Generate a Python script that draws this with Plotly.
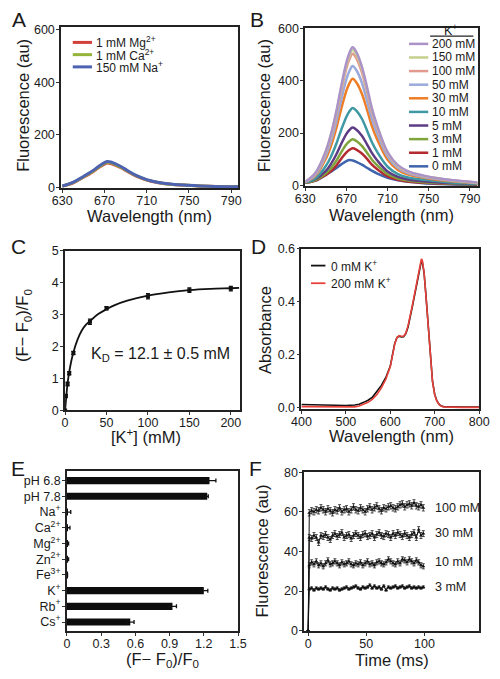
import plotly.graph_objects as go

# The page has an 8 px body margin; the figure is sized to fit the 500x679 window exactly.
OFF = 8
W, H = 500 - 2 * OFF, 679 - 2 * OFF
def px(x): return (x - OFF) / W
def py(y): return 1 - (y - OFF) / H

FONT = "Liberation Sans, Arial, sans-serif"
TXT = "#1a1a1a"

# ---------------- Panel A ----------------
WL = [630, 640, 650, 655, 660, 665, 670, 673, 676, 680, 685, 690, 695, 700, 710, 720, 730, 745, 760, 775, 797]
A_NAMES = ["1 mM Mg<sup>2+</sup>", "1 mM Ca<sup>2+</sup>", "150 mM Na<sup>+</sup>"]
A_MG = [4, 16, 38, 49, 62, 76, 88, 92, 90, 84, 75, 64, 52, 42, 27, 18, 12, 8, 5, 3, 2]
A_CA = [4, 17, 39, 51, 64, 78, 91, 95, 93, 87, 77, 66, 54, 44, 28, 19, 12, 8, 5, 3, 2]
A_NA = [4, 18, 41, 53, 66, 81, 94, 98, 96, 90, 80, 68, 56, 45, 29, 19, 13, 8, 5, 3, 2]
A_COLORS = ["#d2403a", "#95b43a", "#4d62b0"]

# ---------------- Panel B ----------------
B_NAMES = ["200 mM", "150 mM", "100 mM", "50 mM", "30 mM", "10 mM", "5 mM", "3 mM", "1 mM", "0 mM"]
B_200 = [13, 48, 132, 196, 280, 381, 471, 508, 529, 508, 455, 376, 291, 227, 127, 77, 53, 37, 26, 19, 11]
B_150 = [13, 47, 130, 192, 276, 374, 463, 499, 520, 499, 447, 369, 286, 224, 125, 75, 52, 36, 26, 18, 10]
B_100 = [13, 45, 126, 186, 267, 363, 449, 484, 504, 484, 433, 358, 277, 217, 121, 73, 50, 35, 25, 18, 10]
B_50 = [12, 41, 114, 169, 242, 329, 407, 439, 457, 439, 393, 324, 251, 197, 110, 66, 46, 32, 23, 16, 9]
B_30 = [12, 37, 102, 151, 216, 294, 363, 392, 408, 392, 351, 290, 224, 175, 98, 59, 41, 29, 20, 14, 8]
B_10 = [11, 27, 74, 110, 157, 213, 263, 284, 296, 284, 255, 210, 163, 127, 71, 43, 30, 21, 15, 10, 6]
B_5 = [11, 24, 55, 82, 117, 159, 197, 212, 221, 212, 190, 157, 122, 95, 53, 32, 22, 15, 11, 8, 4]
B_3 = [10, 20, 46, 65, 93, 127, 157, 169, 176, 169, 151, 125, 97, 76, 42, 26, 18, 12, 9, 6, 4]
B_1 = [10, 18, 40, 54, 75, 102, 126, 136, 142, 136, 122, 101, 78, 61, 34, 21, 14, 10, 7, 5, 3]
B_0 = [10, 18, 40, 52, 65, 80, 93, 97, 95, 89, 79, 67, 55, 45, 29, 19, 13, 8, 5, 3, 2]
B_SERIES = [B_200, B_150, B_100, B_50, B_30, B_10, B_5, B_3, B_1, B_0]
B_COLORS = ["#ab93c9", "#c5d08e", "#e29a8f", "#9aaada", "#ee7d25", "#3f99a4",
            "#5d3b85", "#7fa43c", "#b42a30", "#3e64ad"]

# ---------------- Panel C ----------------
C_K = [0, 1, 3, 5, 10, 30, 50, 100, 150, 200]
C_Y = [0, 0.45, 0.83, 1.17, 1.8, 2.78, 3.2, 3.58, 3.77, 3.82]
C_ERR = [0.02, 0.05, 0.06, 0.05, 0.05, 0.08, 0.05, 0.08, 0.07, 0.07]
FIT_K = [0, 1, 3, 5, 7.5, 10, 15, 20, 25, 30, 40, 50, 60, 75, 100, 125, 150, 175, 200, 210]
FIT_Y = [0, 0.3, 0.85, 1.2, 1.55, 1.82, 2.22, 2.5, 2.68, 2.8, 3.02, 3.17, 3.3, 3.44, 3.6, 3.7, 3.77, 3.81, 3.83, 3.84]

# ---------------- Panel D ----------------
WL_D = [400, 420, 440, 460, 480, 500, 520, 530, 540, 550, 560, 570, 580, 590, 600, 605, 610, 615, 620, 625,
        630, 635, 640, 650, 660, 665, 668, 670, 672, 676, 680, 685, 690, 695, 700, 705, 710, 715, 720, 730,
        740, 760, 780, 800]
D_0MM = [0.012, 0.011, 0.011, 0.010, 0.009, 0.008, 0.010, 0.013, 0.020, 0.028, 0.040, 0.060, 0.084, 0.114,
         0.157, 0.200, 0.243, 0.265, 0.270, 0.267, 0.268, 0.280, 0.305, 0.385, 0.470, 0.520, 0.545, 0.555,
         0.552, 0.510, 0.430, 0.310, 0.190, 0.100, 0.050, 0.025, 0.012, 0.006, 0.004, 0.003, 0.003, 0.002,
         0.002, 0.002]
D_200MM = [0.004, 0.004, 0.003, 0.003, 0.002, 0.002, 0.003, 0.006, 0.012, 0.020, 0.032, 0.050, 0.075, 0.108,
           0.155, 0.198, 0.240, 0.265, 0.272, 0.270, 0.270, 0.282, 0.310, 0.390, 0.478, 0.530, 0.555, 0.562,
           0.558, 0.512, 0.428, 0.305, 0.185, 0.098, 0.048, 0.024, 0.011, 0.005, 0.003, 0.002, 0.001, 0.001,
           0.001, 0.001]

# ---------------- Panel E ----------------
E_CATS = ["pH 6.8", "pH 7.8", "Na<sup>+</sup>", "Ca<sup>2+</sup>", "Mg<sup>2+</sup>", "Zn<sup>2+</sup>",
          "Fe<sup>3+</sup>", "K<sup>+</sup>", "Rb<sup>+</sup>", "Cs<sup>+</sup>"]
E_VAL = [1.25, 1.23, 0.008, 0.006, 0.008, 0.008, 0.003, 1.2, 0.925, 0.555]
E_ERR = [0.056, 0.009, 0.025, 0.02, 0.006, 0.006, 0.002, 0.035, 0.035, 0.033]

# ---------------- Panel F ----------------
T = [0, 1, 3, 5, 7, 9, 11, 13, 15, 17, 19, 21, 23, 25, 27, 29, 31, 33, 35, 37, 39, 41, 43, 45, 47, 49,
     51, 53, 55, 57, 59, 61, 63, 65, 67, 69, 71, 73, 75, 77, 79, 81, 83, 85, 87, 89, 91, 93, 95, 97, 99]
F_100 = [0, 59.5, 60.5, 60, 61, 60.5, 62, 61, 60, 61.5, 60.5, 59.5, 61, 60.5, 62, 60, 61, 61.5, 60, 61, 62.5,
         61, 60.5, 62, 61, 60, 61.5, 62.5, 61, 62, 63, 61.5, 60.5, 62, 61.5, 62.5, 63, 62, 61.5, 62.5, 63.5,
         64, 62.5, 63.5, 64, 63, 64.5, 63, 62.5, 63.5, 62]
F_30 = [0, 47, 46.5, 48, 47, 44.5, 48, 47.5, 48.5, 47, 46, 48, 49, 47.5, 48.5, 49.5, 47, 48, 48.5, 46.5, 48,
        49, 48, 47, 48.5, 49, 47.5, 48, 49, 47, 48.5, 49.5, 48, 47.5, 49, 48.5, 47, 49, 48, 49.5, 48.5, 47.5,
        49, 48, 47, 48.5, 49.5, 47, 51, 48, 49]
F_10 = [0, 33, 34.5, 33.5, 35, 33, 34, 32.5, 34, 35.5, 33.5, 34, 35, 34, 33, 34.5, 33.5, 34, 35, 33.5, 33,
        34, 33.5, 34.5, 33, 34, 35, 33.5, 34, 33, 34.5, 35, 34, 33.5, 34.5, 36, 35, 34, 33.5, 35, 34, 36,
        35.5, 34.5, 36, 35, 34, 35.5, 34.5, 33, 32.5]
F_3 = [0, 21, 21.5, 20.5, 21.5, 21, 21.5, 21, 22, 21, 20.5, 21.5, 21, 21.5, 20.5, 21, 21.5, 22, 21, 21.5,
       22, 22.5, 21.5, 21, 22, 21.5, 22, 23, 21.5, 22.5, 21.5, 22, 21, 22.5, 20.5, 22, 21.5, 22, 22.5, 21.5,
       22, 22.5, 21.5, 22, 22.5, 21.5, 22, 21.5, 22, 21.5, 22]
F_SERIES = [F_100, F_30, F_10, F_3]
F_LABELS = ["100 mM", "30 mM", "10 mM", "3 mM"]
F_LABEL_Y = [61.7, 49.4, 34.6, 22.2]
F_ERR = [1.6, 1.5, 1.3, 0.6]

fig = go.Figure()

for name, ys, c in zip(A_NAMES, [A_MG, A_CA, A_NA], A_COLORS):
    fig.add_trace(go.Scatter(x=WL, y=ys, mode="lines", line=dict(color=c, width=3, shape="spline"),
                             name=name, xaxis="x", yaxis="y", showlegend=False))
for name, ys, c in reversed(list(zip(B_NAMES, B_SERIES, B_COLORS))):
    fig.add_trace(go.Scatter(x=WL, y=ys, mode="lines", line=dict(color=c, width=2.5, shape="spline"),
                             name=name, xaxis="x2", yaxis="y2", showlegend=False))
fig.add_trace(go.Scatter(x=FIT_K, y=FIT_Y, mode="lines", line=dict(color="#111", width=1.8, shape="spline"),
                         xaxis="x3", yaxis="y3", showlegend=False))
fig.add_trace(go.Scatter(x=C_K, y=C_Y, mode="markers",
                         marker=dict(symbol="square", size=4, color="#111"),
                         error_y=dict(type="data", array=C_ERR, color="#111", thickness=1.3, width=2),
                         xaxis="x3", yaxis="y3", showlegend=False))
fig.add_trace(go.Scatter(x=WL_D, y=D_0MM, mode="lines", line=dict(color="#111", width=1.6),
                         name="0 mM K<sup>+</sup>", xaxis="x4", yaxis="y4", showlegend=False))
fig.add_trace(go.Scatter(x=WL_D, y=D_200MM, mode="lines", line=dict(color="#e8413a", width=1.6),
                         name="200 mM K<sup>+</sup>", xaxis="x4", yaxis="y4", showlegend=False))
fig.add_trace(go.Bar(x=E_VAL, y=E_CATS, orientation="h", marker=dict(color="#0d0d0d", line=dict(width=0)),
                     width=0.45,
                     error_x=dict(type="data", array=E_ERR, color="#111", thickness=1.3, width=2),
                     xaxis="x5", yaxis="y5", showlegend=False))
for ys, e in zip(F_SERIES, F_ERR):
    errs = [0] + [e] * (len(ys) - 1)
    fig.add_trace(go.Scatter(x=T, y=ys, mode="lines+markers",
                             line=dict(color="#111", width=1),
                             marker=dict(symbol="triangle-up", size=3.5, color="#111"),
                             error_y=dict(type="data", array=errs, color="#222", thickness=0.8, width=1.5),
                             xaxis="x6", yaxis="y6", showlegend=False))

boxes = {
    1: ((53, 237), (20, 185)),
    2: ((307, 487), (21, 183)),
    3: ((57, 239), (249, 412)),
    4: ((303, 488), (247, 411)),
    5: ((59, 237), (474, 637)),
    6: ((306, 488), (475, 637)),
}
xr = {1: [629, 796.5], 2: [630, 798], 3: [0, 211], 4: [400, 800], 5: [0, 1.5], 6: [-3.3, 147]}
yr = {1: [-4, 611], 2: [-4, 604], 3: [0, 5], 4: [-0.007, 0.6], 5: [9.55, -0.6], 6: [0, 80]}
xt = {1: [630, 670, 710, 750, 790], 2: [630, 670, 710, 750, 790], 3: [0, 50, 100, 150, 200],
      4: [400, 500, 600, 700, 800], 5: [0, 0.3, 0.6, 0.9, 1.2, 1.5], 6: [0, 50, 100]}
yt = {1: [0, 200, 400, 600], 2: [0, 200, 400, 600], 3: [0, 1, 2, 3, 4, 5], 4: [0, 0.2, 0.4, 0.6],
      6: [0, 20, 40, 60, 80]}

axcommon = dict(showgrid=False, zeroline=False, showline=True, linecolor="#222", linewidth=1.8,
                mirror=True, ticks="outside", ticklen=3, tickwidth=1.2, tickcolor="#333",
                tickfont=dict(family=FONT, size=12.5, color=TXT))
lay = {}
for i, ((x0, x1), (y0, y1)) in boxes.items():
    s = "" if i == 1 else str(i)
    xa = dict(axcommon, domain=[px(x0), px(x1)], range=xr[i], anchor="y" + s, tickvals=xt[i],
              ticklabelstandoff=-3)
    if i == 4:
        xa["tickformat"] = "d"
    ya = dict(axcommon, domain=[py(y1), py(y0)], range=yr[i], anchor="x" + s, ticklabelstandoff=-1)
    if i in yt:
        ya["tickvals"] = yt[i]
    if i == 4:
        ya["tickformat"] = ".1f"
    if i == 5:
        ya["type"] = "category"
        xa["ticktext"] = ["0", "0.3", "0.6", "0.9", "1.2", "1.5"]
    lay["xaxis" + s] = xa
    lay["yaxis" + s] = ya

annotations = []
shapes = []

def ann(text, x, y, size=12.5, xanchor="center", yanchor="middle", angle=0, **kw):
    annotations.append(dict(text=text, x=px(x), y=py(y), xref="paper", yref="paper", showarrow=False,
                            xanchor=xanchor, yanchor=yanchor, textangle=angle,
                            font=dict(family=FONT, size=size, color=TXT), **kw))

for L, x, y in [("A", 9, 13), ("B", 257, 13), ("C", 8, 244), ("D", 258, 244), ("E", 8, 471), ("F", 255, 471)]:
    ann(L, x, y, size=21)

ann("Fluorescence (au)", 13, 100, size=16.5, angle=-90)
ann("Wavelength (nm)", 145, 213, size=16.5)
ann("Fluorescence (au)", 264, 100, size=16.5, angle=-90)
ann("Wavelength (nm)", 397, 212, size=16.5)
ann("(F\u2212 F<sub>0</sub>)/F<sub>0</sub>", 14, 325, size=16.5, angle=-90)
ann("[K<sup>+</sup>] (mM)", 141, 438, size=16.5)
ann("Absorbance", 265, 330, size=16.5, angle=-90)
ann("Wavelength (nm)", 397, 438, size=16.5)
ann("(F\u2212 F<sub>0</sub>)/F<sub>0</sub>", 158, 667, size=16.5)
ann("Fluorescence (au)", 262, 556, size=16.5, angle=-90)
ann("Time (ms)", 397, 667, size=16.5)

annotations.append(dict(text="K<sub>D</sub> = 12.1 \u00b1 0.5 mM", x=115, y=1.75, xref="x3", yref="y3",
                        showarrow=False, font=dict(family=FONT, size=16, color=TXT)))
for lab, yv in zip(F_LABELS, F_LABEL_Y):
    annotations.append(dict(text=lab, x=107, y=yv, xref="x6", yref="y6", xanchor="left",
                            showarrow=False, font=dict(family=FONT, size=12.5, color=TXT)))

for i, (name, c) in enumerate(zip(A_NAMES, A_COLORS)):
    yy = 36 + 12.5 * i
    shapes.append(dict(type="line", xref="paper", yref="paper", x0=px(65), x1=px(85), y0=py(yy), y1=py(yy),
                       line=dict(color=c, width=3)))
    ann(name, 87, yy, size=12, xanchor="left")

ann("K<sup>+</sup>", 458, 23, size=12.5)
shapes.append(dict(type="line", xref="paper", yref="paper", x0=px(437), x1=px(482), y0=py(29.5), y1=py(29.5),
                   line=dict(color="#222", width=1.2)))
for i, (name, c) in enumerate(zip(B_NAMES, B_COLORS)):
    yy = 37.5 + 13.9 * i
    shapes.append(dict(type="line", xref="paper", yref="paper", x0=px(415), x1=px(435), y0=py(yy), y1=py(yy),
                       line=dict(color=c, width=2.5)))
    ann(name, 437, yy, size=12, xanchor="left")

for i, (name, c) in enumerate(zip(["0 mM K<sup>+</sup>", "200 mM K<sup>+</sup>"], ["#111", "#e8413a"])):
    yy = 264 + 18 * i
    shapes.append(dict(type="line", xref="paper", yref="paper", x0=px(313), x1=px(328), y0=py(yy), y1=py(yy),
                       line=dict(color=c, width=1.8)))
    ann(name, 332, yy, size=12, xanchor="left")

fig.update_layout(width=W, height=H, margin=dict(l=0, r=0, t=0, b=0), paper_bgcolor="white",
                  plot_bgcolor="white", annotations=annotations, shapes=shapes, showlegend=False,
                  bargap=0.5, font=dict(family=FONT, color=TXT), **lay)
fig.write_html("out.html")
